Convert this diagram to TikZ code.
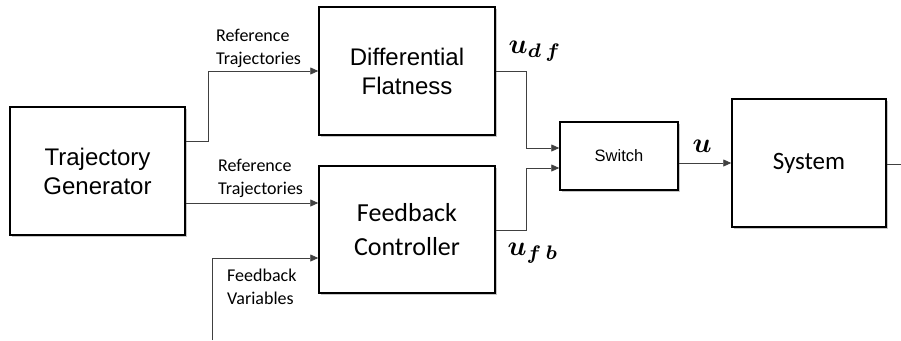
\documentclass[tikz,border=0pt]{standalone}
\usepackage{fontspec}
\setmainfont{Liberation Sans}
\newfontfamily\calfont{Carlito}
\usetikzlibrary{arrows.meta,shadows}

\begin{document}
\begin{tikzpicture}[x=1pt,y=-1pt,
  block/.style={draw=black, line width=1.5pt, fill=white, inner sep=0pt,
    align=center,
    drop shadow={shadow xshift=1.8pt, shadow yshift=-1.8pt, opacity=0.22, fill=black}},
  wire/.style={line width=0.8pt, draw=black!75},
  tip/.style={-{Triangle[length=8pt,width=7pt]}},
  arialbig/.style={font=\fontsize{24}{29}\selectfont},
  calbig/.style={font=\calfont\fontsize{26}{34}\selectfont},
  sigtext/.style={font=\calfont\fontsize{18}{23}\selectfont, align=left, inner sep=0pt},
  mathlbl/.style={scale=2.8, inner sep=0pt, anchor=base west, font=\boldmath}
]
\useasboundingbox (0,0) rectangle (901,340);

% blocks
\node[block, arialbig, minimum width=175pt, minimum height=128pt] (gen) at (97.5,171) {Trajectory\\Generator};
\node[block, arialbig, minimum width=176pt, minimum height=128pt] (flat) at (407,71) {Differential\\Flatness};
\node[block, calbig, minimum width=176pt, minimum height=127pt] (fbc) at (407,229.5) {Feedback\\Controller};
\node[block, font=\fontsize{16.5}{20}\selectfont, minimum width=118pt, minimum height=68pt] (sw) at (619,156) {Switch};
\node[block, font=\calfont\fontsize{25}{30}\selectfont, minimum width=154pt, minimum height=128pt] (sys) at (809,163) {System};

% free ends
\coordinate (fbin) at (212,340);
\coordinate (out) at (901,164);

% trajectory generator to the two controllers
\draw[wire, tip] (gen.east |- 0,141) -| (208,71) -- (flat.west);
\draw[wire, tip] (gen.east |- 0,203) -- (fbc.west |- 0,203);
\draw[wire, tip] (fbin) |- (fbc.west |- 0,258);

% controller outputs into the switch
\draw[wire, tip] (flat.east) -| (526,148) -- (sw.west |- 0,148);
\draw[wire, tip] (fbc.east |- 0,230) -| (526,168) -- (sw.west |- 0,168);

% switch to plant and plant output
\draw[wire, tip] (sw.east |- 0,163) -- (sys.west |- 0,163);
\draw[wire] (sys.east |- out) -- (out);

% signal labels
\node[sigtext, anchor=west] (lref1) at (216,48) {Reference\\Trajectories};
\node[sigtext, anchor=west] (lref2) at (218,178) {Reference\\Trajectories};
\node[sigtext, anchor=west] (lfbv) at (227,287) {Feedback\\Variables};

% signal symbols
\node[mathlbl] (udf) at (508,53) {$u_{d\,f}$};
\node[mathlbl] (ufb) at (507,255) {$u_{f\,b}$};
\node[mathlbl] (u) at (692,152) {$u$};
\end{tikzpicture}
\end{document}
